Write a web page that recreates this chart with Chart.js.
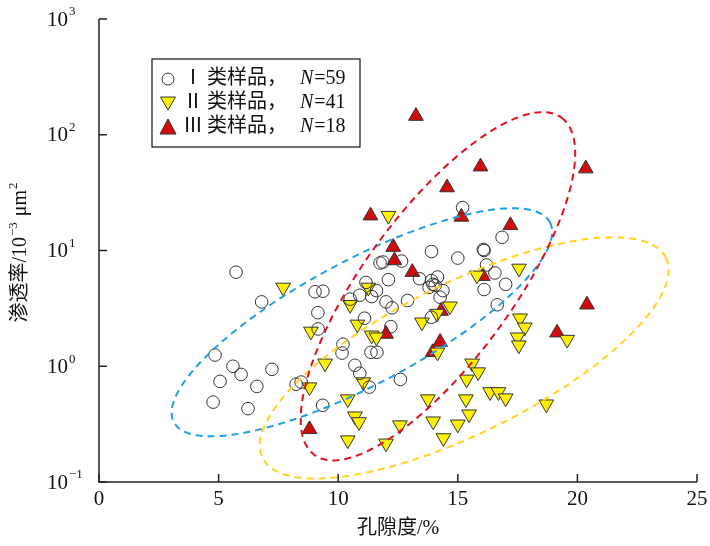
<!DOCTYPE html>
<html>
<head>
<meta charset="utf-8">
<script src="https://cdn.jsdelivr.net/npm/chart.js@4.4.0/dist/chart.umd.min.js"></script>
<style>
  html, body { margin: 0; padding: 0; background: #fff; }
  #wrap { width: 710px; height: 546px; position: relative; }
</style>
</head>
<body>
<div id="wrap"><canvas id="chart"></canvas></div>
<script>
// ---------------- data (porosity %, permeability 10^-3 um^2) ----------------
const type1Points = [
  [5.73, 6.5], [6.8, 3.6], [9.03, 4.4], [9.36, 4.45], [9.15, 2.9], [9.16, 2.1],
  [4.85, 1.25], [5.6, 1.0], [5.94, 0.85], [7.23, 0.94], [5.06, 0.74], [6.6, 0.67],
  [8.24, 0.70], [8.45, 0.73], [4.77, 0.49], [6.23, 0.43], [9.35, 0.46], [10.2, 1.55],
  [10.16, 1.3], [15.2, 23.5], [11.75, 7.8], [11.87, 7.95], [12.65, 8.1], [13.9, 9.8],
  [15.0, 8.6], [16.07, 10.2], [16.1, 10.0], [16.2, 7.5], [16.55, 6.4], [17.0, 5.1],
  [16.1, 4.6], [16.65, 3.4], [16.85, 13], [12.1, 5.6], [11.16, 5.3], [11.6, 4.5],
  [13.4, 5.7], [13.9, 5.5], [14.15, 5.9], [13.96, 5.1], [13.8, 4.8], [14.05, 5.0],
  [14.38, 4.5], [14.26, 3.95], [12.9, 3.7], [10.5, 3.8], [10.9, 4.1], [11.4, 4.0],
  [12.0, 3.6], [12.25, 3.2], [11.1, 2.6], [12.2, 2.2], [13.9, 2.65], [11.37, 1.32],
  [11.62, 1.32], [10.7, 1.02], [10.9, 0.87], [11.3, 0.66], [12.6, 0.77]
];
const type2Points = [
  [7.7, 4.8], [12.1, 20], [11.26, 4.8], [10.5, 3.4], [8.86, 2.0], [10.8, 2.3],
  [11.4, 1.85], [11.6, 1.78], [13.5, 2.4], [14.13, 2.85], [14.67, 3.3], [15.8, 6.1],
  [17.56, 7.0], [17.6, 2.6], [17.8, 2.17], [17.5, 1.78], [17.55, 1.52], [19.57, 1.7],
  [14.15, 1.32], [9.45, 1.06], [8.8, 0.66], [11.05, 0.73], [10.4, 0.52], [10.7, 0.37],
  [10.87, 0.33], [10.4, 0.23], [12.0, 0.216], [12.58, 0.31], [13.75, 0.52], [13.97, 0.335],
  [14.4, 0.24], [15.0, 0.315], [15.34, 0.52], [15.47, 0.385], [15.37, 0.77], [15.6, 1.06],
  [15.85, 0.89], [16.35, 0.6], [16.7, 0.6], [17.0, 0.53], [18.7, 0.47]
];
const type3Points = [
  [13.25, 145], [15.95, 53], [20.35, 51], [14.55, 35], [11.35, 20], [15.15, 19.5],
  [17.2, 16.5], [12.3, 10.7], [12.35, 8.2], [13.1, 6.5], [16.05, 6.0], [14.3, 3.0],
  [20.4, 3.4], [19.15, 1.95], [12.0, 1.9], [14.26, 1.62], [13.95, 1.32], [8.8, 0.285]
];
const seriesNames = ['Ⅰ', 'Ⅱ', 'Ⅲ'];
const seriesCounts = [59, 41, 18];
const xTicks = [0, 5, 10, 15, 20, 25];
const yTickExp = [-1, 0, 1, 2, 3];

// ellipses: centre (x, log10 y) and two conjugate semi-axes in (x, decades)
const ellipseBlue = { cx: 10.99, cy: 0.38, ux: 7.86, uy: 0.864, vx: 1.22, vy: -0.473 };
const ellipseRed = { cx: 14.17, cy: 0.691, ux: 5.17, uy: 1.456, vx: 2.49, vy: -0.379 };
const ellipseYellow = { cx: 15.27, cy: 0.072, ux: 8.43, uy: 0.865, vx: 1.40, vy: -0.581 };

// ---------------- styles ----------------
const SERIF = '"Liberation Serif", "Noto Sans CJK SC", serif';
const EDGE = '#333333';
const YELLOW = '#fff000';
const RED = '#d10a0a';

function toXY(list) {
  return list.map(p => ({ x: p[0], y: p[1] }));
}

function drawEllipse(ctx, xs, ys, e, color) {
  ctx.save();
  ctx.strokeStyle = color;
  ctx.lineWidth = 2;
  ctx.setLineDash([7, 5]);
  ctx.beginPath();
  const n = 240;
  for (let i = 0; i <= n; i++) {
    const t = i / n * Math.PI * 2;
    const x = e.cx + e.ux * Math.cos(t) + e.vx * Math.sin(t);
    const ly = e.cy + e.uy * Math.cos(t) + e.vy * Math.sin(t);
    const px = xs.getPixelForValue(x);
    const py = ys.getPixelForValue(Math.pow(10, ly));
    if (i === 0) ctx.moveTo(px, py); else ctx.lineTo(px, py);
  }
  ctx.closePath();
  ctx.stroke();
  ctx.restore();
}

// text with a superscript part, left aligned at x, middle baseline y
function drawPow(ctx, x, y, base, exp, size) {
  ctx.font = size + 'px ' + SERIF;
  ctx.textBaseline = 'middle';
  ctx.textAlign = 'left';
  ctx.fillText(base, x, y);
  const w = ctx.measureText(base).width;
  ctx.font = Math.round(size * 0.62) + 'px ' + SERIF;
  ctx.fillText(exp, x + w + 1, y - size * 0.38);
}

function legendMarker(ctx, i, x, y) {
  ctx.save();
  ctx.lineWidth = 1;
  ctx.strokeStyle = EDGE;
  ctx.beginPath();
  if (i === 0) {
    ctx.fillStyle = '#fff';
    ctx.arc(x, y, 6, 0, Math.PI * 2);
  } else if (i === 1) {
    ctx.fillStyle = YELLOW;
    ctx.moveTo(x - 7.5, y - 6); ctx.lineTo(x + 7.5, y - 6); ctx.lineTo(x, y + 7);
    ctx.closePath();
  } else {
    ctx.fillStyle = RED;
    ctx.moveTo(x - 8, y + 7); ctx.lineTo(x + 8, y + 7); ctx.lineTo(x, y - 8);
    ctx.closePath();
  }
  ctx.fill();
  ctx.stroke();
  ctx.restore();
}

const decorPlugin = {
  id: 'decor',
  afterDatasetsDraw(chart) {
    const ctx = chart.ctx;
    const xs = chart.scales.x, ys = chart.scales.y;
    drawEllipse(ctx, xs, ys, ellipseBlue, '#1e9fe6');
    drawEllipse(ctx, xs, ys, ellipseYellow, '#ffd21f');
    drawEllipse(ctx, xs, ys, ellipseRed, '#e0101e');
  },
  afterDraw(chart) {
    const ctx = chart.ctx;
    const a = chart.chartArea;
    const xs = chart.scales.x, ys = chart.scales.y;
    ctx.save();
    ctx.strokeStyle = '#222';
    ctx.fillStyle = '#111';
    ctx.lineWidth = 1.5;
    // axis lines
    ctx.beginPath();
    ctx.moveTo(a.left, a.top);
    ctx.lineTo(a.left, a.bottom);
    ctx.lineTo(a.right, a.bottom);
    ctx.stroke();
    // x ticks (inward) and labels
    ctx.font = '21px ' + SERIF;
    ctx.textAlign = 'center';
    ctx.textBaseline = 'middle';
    xTicks.forEach(v => {
      const px = xs.getPixelForValue(v);
      ctx.beginPath();
      ctx.moveTo(px, a.bottom);
      ctx.lineTo(px, a.bottom - 8);
      ctx.stroke();
      ctx.fillText(String(v), px, a.bottom + 17);
    });
    // y ticks (inward) and labels
    yTickExp.forEach(e => {
      const py = ys.getPixelForValue(Math.pow(10, e));
      ctx.beginPath();
      ctx.moveTo(a.left, py);
      ctx.lineTo(a.left + 8, py);
      ctx.stroke();
      drawPow(ctx, 47, py + 1, '10', e < 0 ? '\u2212' + (-e) : String(e), 21);
    });
    // x title
    ctx.font = '20px ' + SERIF;
    ctx.textAlign = 'center';
    ctx.textBaseline = 'middle';
    ctx.fillText('孔隙度/%', (a.left + a.right) / 2, 529);
    // y title, rotated
    ctx.save();
    ctx.translate(21, 252);
    ctx.rotate(-Math.PI / 2);
    const big = '20px ' + SERIF, small = '13px ' + SERIF;
    const parts = [['渗透率/10', big, 0], ['\u22123', small, -7], [' μm', big, 0], ['2', small, -7]];
    let total = 0;
    parts.forEach(p => { ctx.font = p[1]; total += ctx.measureText(p[0]).width + 1; });
    let cx = -total / 2;
    ctx.textAlign = 'left';
    parts.forEach(p => {
      ctx.font = p[1];
      ctx.fillText(p[0], cx, p[2]);
      cx += ctx.measureText(p[0]).width + 1;
    });
    ctx.restore();
    // legend
    ctx.lineWidth = 1.2;
    ctx.strokeStyle = '#111';
    ctx.fillStyle = '#fff';
    ctx.fillRect(152, 59, 208, 88);
    ctx.strokeRect(152, 59, 208, 88);
    const rows = [79, 103, 127];
    rows.forEach((ry, i) => {
      legendMarker(ctx, i, 168, ry);
      ctx.fillStyle = '#111';
      ctx.textBaseline = 'middle';
      ctx.textAlign = 'center';
      ctx.font = '20px ' + SERIF;
      ctx.fillText(seriesNames[i], 193, ry);
      ctx.textAlign = 'left';
      ctx.fillText('类样品，', 207, ry);
      ctx.font = 'italic 20px ' + SERIF;
      ctx.fillText('N', 300, ry);
      const nw = ctx.measureText('N').width;
      ctx.font = '20px ' + SERIF;
      ctx.fillText('=' + seriesCounts[i], 300 + nw + 1, ry);
    });
    ctx.restore();
  }
};

const pointBase = { showLine: false, borderWidth: 1, borderColor: EDGE, pointHoverRadius: 7 };

new Chart(document.getElementById('chart'), {
  type: 'scatter',
  data: {
    datasets: [
      Object.assign({}, pointBase, {
        label: 'Ⅰ类样品',
        data: toXY(type1Points),
        pointStyle: 'circle',
        pointRadius: 6.3,
        backgroundColor: 'rgba(255,255,255,0)'
      }),
      Object.assign({}, pointBase, {
        label: 'Ⅱ类样品',
        data: toXY(type2Points),
        pointStyle: 'triangle',
        pointRotation: 180,
        pointRadius: 8.5,
        backgroundColor: YELLOW
      }),
      Object.assign({}, pointBase, {
        label: 'Ⅲ类样品',
        data: toXY(type3Points),
        pointStyle: 'triangle',
        pointRadius: 8.5,
        backgroundColor: RED
      })
    ]
  },
  options: {
    responsive: true,
    maintainAspectRatio: false,
    animation: false,
    layout: { padding: { top: 19, right: 13, left: 0, bottom: 0 } },
    plugins: { legend: { display: false }, tooltip: { enabled: false } },
    scales: {
      x: {
        type: 'linear',
        min: 0,
        max: 25,
        grid: { display: false },
        border: { display: false },
        ticks: { display: false },
        afterFit(scale) { scale.height = 64; }
      },
      y: {
        type: 'logarithmic',
        min: 0.1,
        max: 1000,
        grid: { display: false },
        border: { display: false },
        ticks: { display: false },
        afterBuildTicks(scale) { scale.ticks = yTickExp.map(e => ({ value: Math.pow(10, e) })); },
        afterFit(scale) { scale.width = 99; }
      }
    }
  },
  plugins: [decorPlugin]
});
</script>
</body>
</html>
